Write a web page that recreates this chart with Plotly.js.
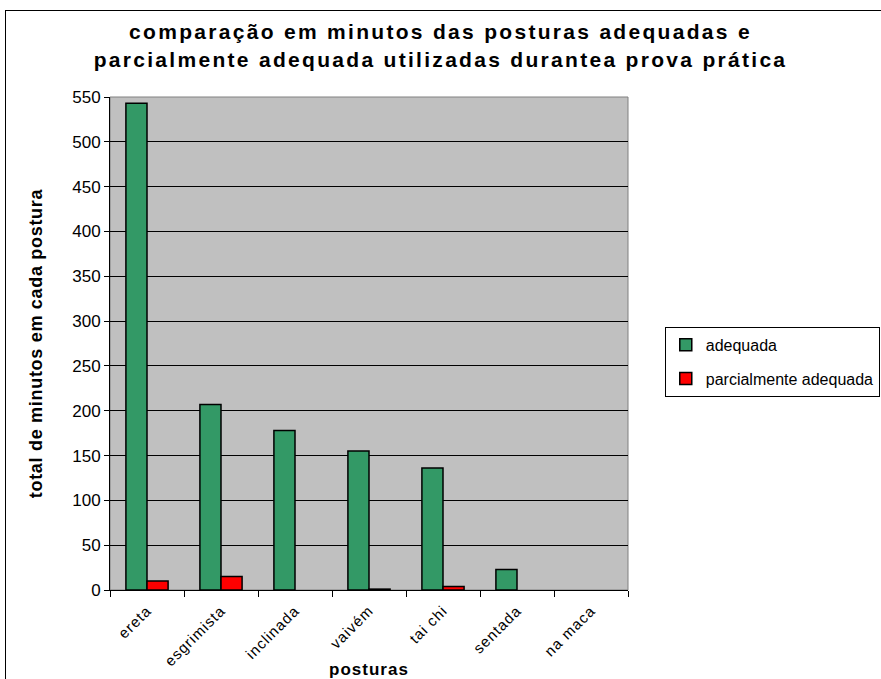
<!DOCTYPE html>
<html>
<head>
<meta charset="utf-8">
<script src="https://cdn.plot.ly/plotly-3.0.1.min.js"></script>
<style>
body{margin:0;padding:0;background:#fff;}
#chart{width:881px;height:679px;position:absolute;left:0;top:0;}
#frame{position:absolute;left:5px;top:10px;width:900px;height:700px;border:1px solid #000;pointer-events:none;}
#chart text.gtitle{letter-spacing:2.3px;}
#chart text.ytitle{letter-spacing:0.7px;}
#chart text.xtitle{letter-spacing:1px;}
#chart g.xtick text{letter-spacing:1px;}
</style>
</head>
<body>
<div id="chart"></div>
<div id="frame"></div>
<script>
const categories = ["ereta", "esgrimista", "inclinada", "vaivém", "tai chi", "sentada", "na maca"];
const adequada = [543, 207, 178, 155, 136, 23, 0];
const parcialmente = [10, 15, 0, 1, 4, 0, 0];
const seriesNames = ["adequada", "parcialmente adequada"];
const yTicks = [0, 50, 100, 150, 200, 250, 300, 350, 400, 450, 500, 550];

const font = "Liberation Sans, Arial, sans-serif";
const outline = vals => vals.map(v => v === 0 ? 0 : 1.5);

const traces = [
  {type:"bar", name:seriesNames[0], x:categories, y:adequada, legendgroup:"a",
   marker:{color:"#339966", line:{color:"#000", width:outline(adequada)}}},
  {type:"bar", name:seriesNames[1], x:categories, y:parcialmente, legendgroup:"b",
   marker:{color:"#ff0000", line:{color:"#000", width:outline(parcialmente)}}}
];

const layout = {
  width:881, height:679,
  margin:{l:110, r:253, t:97, b:89, autoexpand:false},
  paper_bgcolor:"rgba(0,0,0,0)",
  plot_bgcolor:"#c0c0c0",
  font:{family:font, size:14, color:"#000"},
  barmode:"group", bargap:0.43, bargroupgap:0,
  title:{text:"<b>comparação em minutos das posturas adequadas e<br>parcialmente adequada utilizadas durantea prova prática</b>",
         font:{family:font, size:21, color:"#000"}, x:0.5, xref:"container", xanchor:"center",
         y:0.942, yref:"container", yanchor:"top"},
  xaxis:{type:"category", tickson:"boundaries", ticks:"outside", ticklen:6, tickcolor:"#000",
         tickangle:-45, showline:true, linecolor:"#000", linewidth:1, showgrid:false,
         tickfont:{family:font, size:15}, automargin:false, ticklabelstandoff:5,
         title:{text:"<b>posturas</b>", font:{family:font, size:17}, standoff:2}},
  yaxis:{range:[0,550], tickvals:yTicks, ticks:"outside", ticklen:5, tickcolor:"#000",
         showline:true, linecolor:"#000", linewidth:1, showgrid:true, gridcolor:"#000", gridwidth:1,
         zeroline:false, tickfont:{family:font, size:17}, automargin:false,
         title:{text:"<b>total de minutos em cada postura</b>", font:{family:font, size:18}, standoff:24}},
  legend:{x:1.071, xanchor:"left", y:0.534, yanchor:"top", bordercolor:"#000", borderwidth:1,
          bgcolor:"#fff", font:{family:font, size:16}, traceorder:"grouped", tracegroupgap:10,
          itemwidth:30},
  shapes:[{type:"rect", xref:"paper", yref:"paper", x0:0, x1:1, y0:0, y1:1,
           line:{color:"#808080", width:1}, layer:"below"}]
};

Plotly.newPlot("chart", traces, layout, {displayModeBar:false, staticPlot:true});
</script>
</body>
</html>
